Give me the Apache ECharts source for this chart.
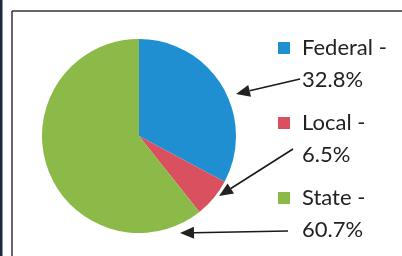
<!DOCTYPE html>
<html>
<head>
<meta charset="utf-8">
<script src="https://cdn.jsdelivr.net/npm/echarts@6/dist/echarts.min.js"></script>
<style>
  html, body { margin: 0; padding: 0; background: #fff; }
  #chart { width: 402px; height: 256px; }
</style>
</head>
<body>
<div id="chart"></div>
<script>
// data
const categories = ['Federal', 'Local', 'State'];
const shares = [32.8, 6.5, 60.7];
const sliceColors = ['#1f8fd2', '#d9505e', '#8cba48'];

const chart = echarts.init(document.getElementById('chart'));

// arrow from the label text towards the pie
function arrow(x1, y1, x2, y2) {
  const dx = x2 - x1, dy = y2 - y1;
  const len = Math.sqrt(dx * dx + dy * dy);
  const ux = dx / len, uy = dy / len;
  const hl = 14, hw = 6;
  const bx = x2 - ux * hl, by = y2 - uy * hl;
  return [
    {
      type: 'line',
      shape: { x1: x1, y1: y1, x2: bx, y2: by },
      style: { stroke: '#1a1a1a', lineWidth: 1.6 }
    },
    {
      type: 'polygon',
      shape: { points: [[x2, y2], [bx - uy * hw, by + ux * hw], [bx + uy * hw, by - ux * hw]] },
      style: { fill: '#222' }
    }
  ];
}

const option = {
  animation: false,
  color: sliceColors,
  legend: {
    orient: 'vertical',
    left: 278,
    top: 0,
    padding: 0,
    itemWidth: 12,
    itemHeight: 12,
    itemGap: -21,
    icon: 'rect',
    selectedMode: false,
    data: categories,
    // blank first line so the square sits beside the first text line
    formatter: function (name) {
      const i = categories.indexOf(name);
      return ' \n' + name + ' -\n' + shares[i] + '%';
    },
    textStyle: {
      fontFamily: 'Lato',
      fontSize: 22,
      lineHeight: 32,
      color: '#222',
      padding: [0, 0, 0, 7]
    }
  },
  series: [
    {
      type: 'pie',
      center: [139, 136],
      radius: 97,
      startAngle: 90,
      clockwise: true,
      silent: true,
      label: { show: false },
      labelLine: { show: false },
      itemStyle: { borderWidth: 0 },
      data: categories.map((c, i) => ({ name: c, value: shares[i] }))
    }
  ],
  graphic: [
    { type: 'rect', shape: { x: 0, y: 0, width: 2.5, height: 256 }, style: { fill: '#1b2b3b' } },
    { type: 'line', shape: { x1: 12, y1: 11, x2: 12, y2: 256 }, style: { stroke: '#333', lineWidth: 1.5 } },
    { type: 'line', shape: { x1: 12, y1: 11, x2: 402, y2: 11 }, style: { stroke: '#333', lineWidth: 1.5 } }
  ]
    .concat(arrow(300, 79, 236, 94))
    .concat(arrow(293, 149, 219, 196))
    .concat(arrow(288, 231, 180, 233))
};

chart.setOption(option);
</script>
</body>
</html>
